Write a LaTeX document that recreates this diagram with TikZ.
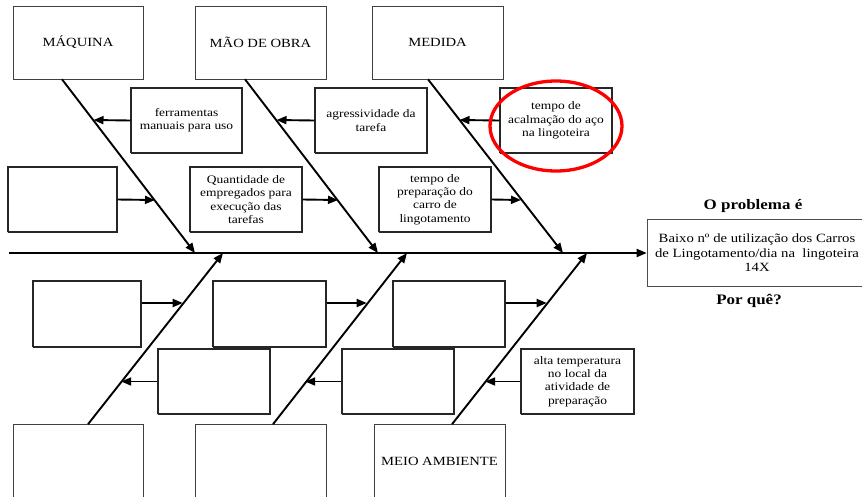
\documentclass[tikz,border=0pt]{standalone}
\usepackage{fontspec}
\setmainfont{Liberation Serif}[FakeStretch=1.17]
\usetikzlibrary{arrows.meta, positioning}

\begin{document}
\begin{tikzpicture}[x=1pt, y=-1pt, >={Triangle[length=10pt,width=8pt]},
    espinha/.style={->, line width=1.9pt},
    categoria/.style={draw=black!75, line width=0.6pt, minimum width=130pt, minimum height=73pt,
        font=\fontsize{12.5}{14}\selectfont},
    causa/.style={draw=black!85, line width=1.3pt, dash pattern=on 0.6pt off 0.4pt, minimum width=111pt,
        minimum height=65pt, align=center, font=\fontsize{11.5}{13.3}\selectfont},
    problema/.style={draw=black!70, line width=0.6pt, minimum width=220pt, minimum height=67pt,
        align=center, font=\fontsize{12.6}{14.5}\selectfont},
    titulo/.style={font=\fontsize{14.5}{16}\selectfont\bfseries}]
    \useasboundingbox (0,0) rectangle (862,496);

    % categorias
    \node[categoria] (maq) at (78,42.5) {MÁQUINA};
    \node[categoria, minimum width=131pt] (mao) at (260.5,42.5) {MÃO DE OBRA};
    \node[categoria, minimum width=131pt] (med) at (437.5,42.5) {MEDIDA};
    \node[categoria, minimum height=74pt] (b1) at (78,461.5) {};
    \node[categoria, minimum width=131pt, minimum height=74pt] (b2) at (260.5,461.5) {};
    \node[categoria, minimum width=131pt, minimum height=74pt] (amb) at (439.5,461.5) {MEIO AMBIENTE};

    % causas de cima
    \node[causa] (ferr) at (186.5,120.5) {ferramentas\\manuais para uso};
    \node[causa, minimum width=112pt] (agres) at (371,120.5) {agressividade da\\tarefa};
    \node[causa, minimum width=112pt] (acal) at (556,120.5) {tempo de\\acalmação do aço\\na lingoteira};
    \node[causa, minimum width=109pt] (vaz1) at (62.5,199.5) {};
    \node[causa, minimum width=112pt] (quant) at (246,199.5) {Quantidade de\\empregados para\\execução das\\tarefas};
    \node[causa, minimum width=112pt] (prep) at (435,199.5) {tempo de\\preparação do\\carro de\\lingotamento};

    % causas de baixo
    \node[causa, minimum width=108pt, minimum height=66pt] (vaz2) at (87,314) {};
    \node[causa, minimum width=113pt, minimum height=66pt] (vaz3) at (269.5,314) {};
    \node[causa, minimum width=112pt, minimum height=66pt] (vaz4) at (449,314) {};
    \node[causa, minimum width=112pt] (vaz5) at (214,381.5) {};
    \node[causa, minimum width=112pt] (vaz6) at (398,381.5) {};
    \node[causa, minimum width=113pt] (alta) at (577.5,381.5) {alta temperatura\\no local da\\atividade de\\preparação};

    % problema
    \node[problema] (prob) at (757,253) {Baixo nº de utilização dos Carros\\de Lingotamento/dia na\ \ lingoteira\\14X};
    \node[titulo] (oprob) at (753,206) {O problema é};
    \node[titulo] (porque) at (749,301) {Por quê?};

    % pontos na espinha
    \coordinate (s0) at (9,253);
    \coordinate (h1) at (195,253);
    \coordinate (h2) at (378,253);
    \coordinate (h3) at (563,253);
    \coordinate (k1) at (223,253);
    \coordinate (k2) at (407,253);
    \coordinate (k3) at (587,253);
    \coordinate (t1) at ([xshift=-16pt]maq.south);
    \coordinate (t2) at ([xshift=-15.5pt]mao.south);
    \coordinate (t3) at ([xshift=-9.5pt]med.south);
    \coordinate (d1) at ([xshift=10pt]b1.north);
    \coordinate (d2) at ([xshift=12.5pt]b2.north);
    \coordinate (d3) at ([xshift=12.5pt]amb.north);

    % pontos nas espinhas laterais
    \coordinate (p1) at (93.5,120);
    \coordinate (p2) at (276.5,120);
    \coordinate (p3) at (459.5,120);
    \coordinate (q1) at (155,200);
    \coordinate (q2) at (338,200);
    \coordinate (q3) at (521,200);
    \coordinate (r1) at (182.7,303);
    \coordinate (r2) at (366.7,303);
    \coordinate (r3) at (546.7,303);
    \coordinate (u1) at (121.2,381.5);
    \coordinate (u2) at (305.2,381.5);
    \coordinate (u3) at (485.2,381.5);
    \coordinate (e2) at (vaz2.east |- r1);
    \coordinate (e3) at (vaz3.east |- r2);
    \coordinate (e4) at (vaz4.east |- r3);

    \draw[espinha] (s0) -- (prob.west);
    \foreach \a/\b in {t1/h1, t2/h2, t3/h3, d1/k1, d2/k2, d3/k3}
        \draw[espinha] (\a) -- (\b);
    \foreach \a/\b in {ferr.west/p1, agres.west/p2, acal.west/p3,
                       vaz1.east/q1, quant.east/q2, prep.east/q3,
                       e2/r1, e3/r2, e4/r3,
                       vaz5.west/u1, vaz6.west/u2, alta.west/u3}
        \draw[espinha] (\a) -- (\b);

    \draw[red, line width=3.3pt] ([yshift=-5.5pt]acal.center) ellipse (66pt and 45pt);
\end{tikzpicture}
\end{document}
